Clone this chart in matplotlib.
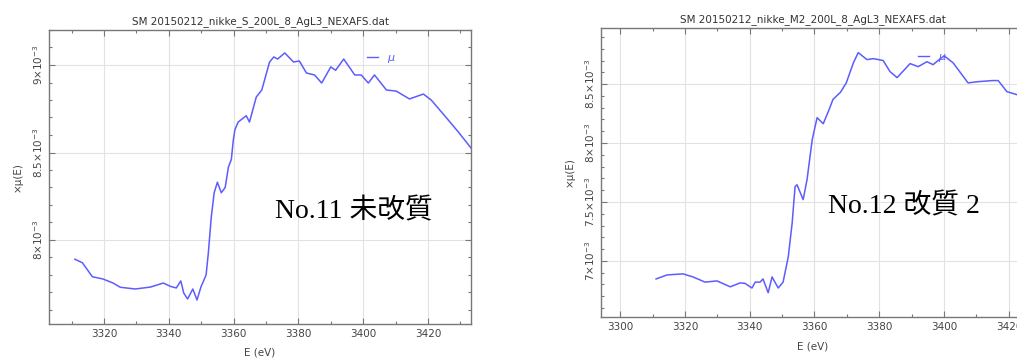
import matplotlib
matplotlib.use("Agg")
import matplotlib.pyplot as plt
from matplotlib.ticker import MultipleLocator, FuncFormatter
from matplotlib.lines import Line2D

# ---- data (E in eV, mu in units of 1e-3) ----
e_s = [3311.0, 3313.3, 3316.4, 3319.7, 3322.8, 3325.0, 3329.6, 3334.3, 3338.3,
       3340.5, 3342.3, 3343.7, 3344.6, 3345.8, 3347.4, 3348.7, 3349.9, 3351.5,
       3352.2, 3353.1, 3354.0, 3355.0, 3356.2, 3357.4, 3358.4, 3359.3, 3359.9,
       3360.4, 3361.4, 3363.9, 3364.9, 3367.0, 3368.7,
       3371.1, 3372.4, 3373.6, 3375.8, 3378.5, 3380.3, 3382.5, 3385.0, 3387.2,
       3390.0, 3391.5, 3394.0, 3397.4, 3399.4, 3401.6, 3403.5, 3407.2, 3410.2,
       3414.3, 3418.6, 3421.0, 3425.0, 3429.4, 3433.3]
mu_s = [7.89, 7.87, 7.79, 7.777, 7.754, 7.73, 7.72, 7.731, 7.754,
        7.735, 7.726, 7.766, 7.697, 7.663, 7.72, 7.657, 7.731, 7.80,
        7.926, 8.13, 8.27, 8.33, 8.27, 8.30, 8.417, 8.46, 8.57,
        8.63, 8.674, 8.71, 8.674, 8.817, 8.857,
        9.017, 9.046, 9.034, 9.069, 9.017, 9.023, 8.954, 8.943, 8.897,
        8.989, 8.97, 9.034, 8.943, 8.943, 8.897, 8.943, 8.857, 8.851,
        8.806, 8.834, 8.80, 8.714, 8.617, 8.526]

e_m = [3311.1, 3314.5, 3319.4, 3322.5, 3326.2, 3329.9, 3334.0, 3337.0, 3338.5,
       3340.7, 3341.7, 3343.2, 3344.1, 3345.7, 3346.9, 3348.8, 3350.3, 3351.9,
       3353.1, 3354.0, 3354.6, 3356.5, 3357.7, 3359.3, 3360.8, 3362.7, 3364.5,
       3365.7, 3368.0, 3369.8, 3372.0, 3373.5, 3376.2, 3378.2, 3381.2, 3383.3,
       3385.5, 3389.5, 3392.0, 3394.7, 3396.6, 3398.5, 3400.0, 3402.8, 3407.4,
       3410.2, 3415.0, 3416.7, 3419.4, 3422.5, 3426.0]
mu_m = [6.847, 6.881, 6.89, 6.864, 6.82, 6.83, 6.78, 6.813, 6.81,
        6.77, 6.82, 6.82, 6.847, 6.73, 6.864, 6.77, 6.82, 7.034,
        7.32, 7.63, 7.646, 7.52, 7.69, 8.03, 8.215, 8.164, 8.283,
        8.37, 8.43, 8.51, 8.68, 8.767, 8.708, 8.716, 8.70, 8.606,
        8.555, 8.674, 8.648, 8.69, 8.665, 8.708, 8.74, 8.68, 8.51,
        8.52, 8.53, 8.53, 8.436, 8.41, 8.38]

title_s = "SM 20150212_nikke_S_200L_8_AgL3_NEXAFS.dat"
title_m = "SM 20150212_nikke_M2_200L_8_AgL3_NEXAFS.dat"
note_s = "No.11 未改質"
note_m = "No.12 改質 2"

W, H = 1017, 360
fig = plt.figure(figsize=(W / 100, H / 100), dpi=100)

LINE = "#5c5cff"
SPINE = "#777777"
TXT = "#444444"


def yfmt(v, pos):
    s = "%g" % v
    return r"$%s{\times}10^{-3}$" % s


def style(ax, xlim, ylim, title, legpos):
    ax.set_xlim(*xlim)
    ax.set_ylim(*ylim)
    ax.xaxis.set_major_locator(MultipleLocator(20))
    ax.xaxis.set_minor_locator(MultipleLocator(10))
    ax.yaxis.set_major_locator(MultipleLocator(0.5))
    ax.yaxis.set_minor_locator(MultipleLocator(0.1))
    ax.yaxis.set_major_formatter(FuncFormatter(yfmt))
    ax.grid(True, which="major", color="#e2e2e2", lw=0.8)
    ax.set_axisbelow(True)
    ax.tick_params(which="both", direction="in", top=True, right=True,
                   colors=SPINE, labelcolor=TXT, labelsize=7.5, width=0.8)
    ax.tick_params(which="major", length=4)
    ax.tick_params(which="minor", length=2)
    for lab in ax.get_yticklabels():
        lab.set_rotation(90)
        lab.set_va("center")
    ax.tick_params(axis="y", pad=3)
    for sp in ax.spines.values():
        sp.set_color(SPINE)
        sp.set_linewidth(1.0)
    ax.set_title(title, fontsize=7.5, color="#333333", pad=4)
    ax.set_xlabel("E (eV)", fontsize=7.5, color=TXT, labelpad=6)
    ax.set_ylabel("×μ(E)", fontsize=7.5, color=TXT, labelpad=6)
    h = Line2D([], [], color=LINE, lw=1.0)
    leg = ax.legend([h], ["μ"], loc="center left", bbox_to_anchor=legpos,
                    frameon=False, handlelength=1.0, handletextpad=0.8,
                    borderpad=0, borderaxespad=0, fontsize=8)
    for t in leg.get_texts():
        t.set_color(LINE)
        t.set_style("italic")


ax1 = fig.add_axes([49 / W, (H - 324) / H, 422 / W, 294 / H])
ax1.plot(e_s, mu_s, color=LINE, lw=1.1)
style(ax1, (3303.0, 3433.3), (7.52, 9.2), title_s, (0.754, 0.905))

ax2 = fig.add_axes([601 / W, (H - 317) / H, 450 / W, 289 / H])
ax2.plot(e_m, mu_m, color=LINE, lw=1.1)
style(ax2, (3294.1, 3433.0), (6.524, 8.976), title_m, (0.704, 0.90))
ax2.title.set_position((0.47, 1.0))
ax2.xaxis.set_label_coords(0.47, -0.085)

fam = ["Liberation Serif", "Noto Sans CJK JP"]
fig.text(275 / W, (H - 211) / H, note_s, fontsize=20, family=fam,
         va="center", ha="left", color="black")
fig.text(828 / W, (H - 206) / H, note_m, fontsize=20, family=fam,
         va="center", ha="left", color="black")

fig.savefig("out.png", dpi=100)
